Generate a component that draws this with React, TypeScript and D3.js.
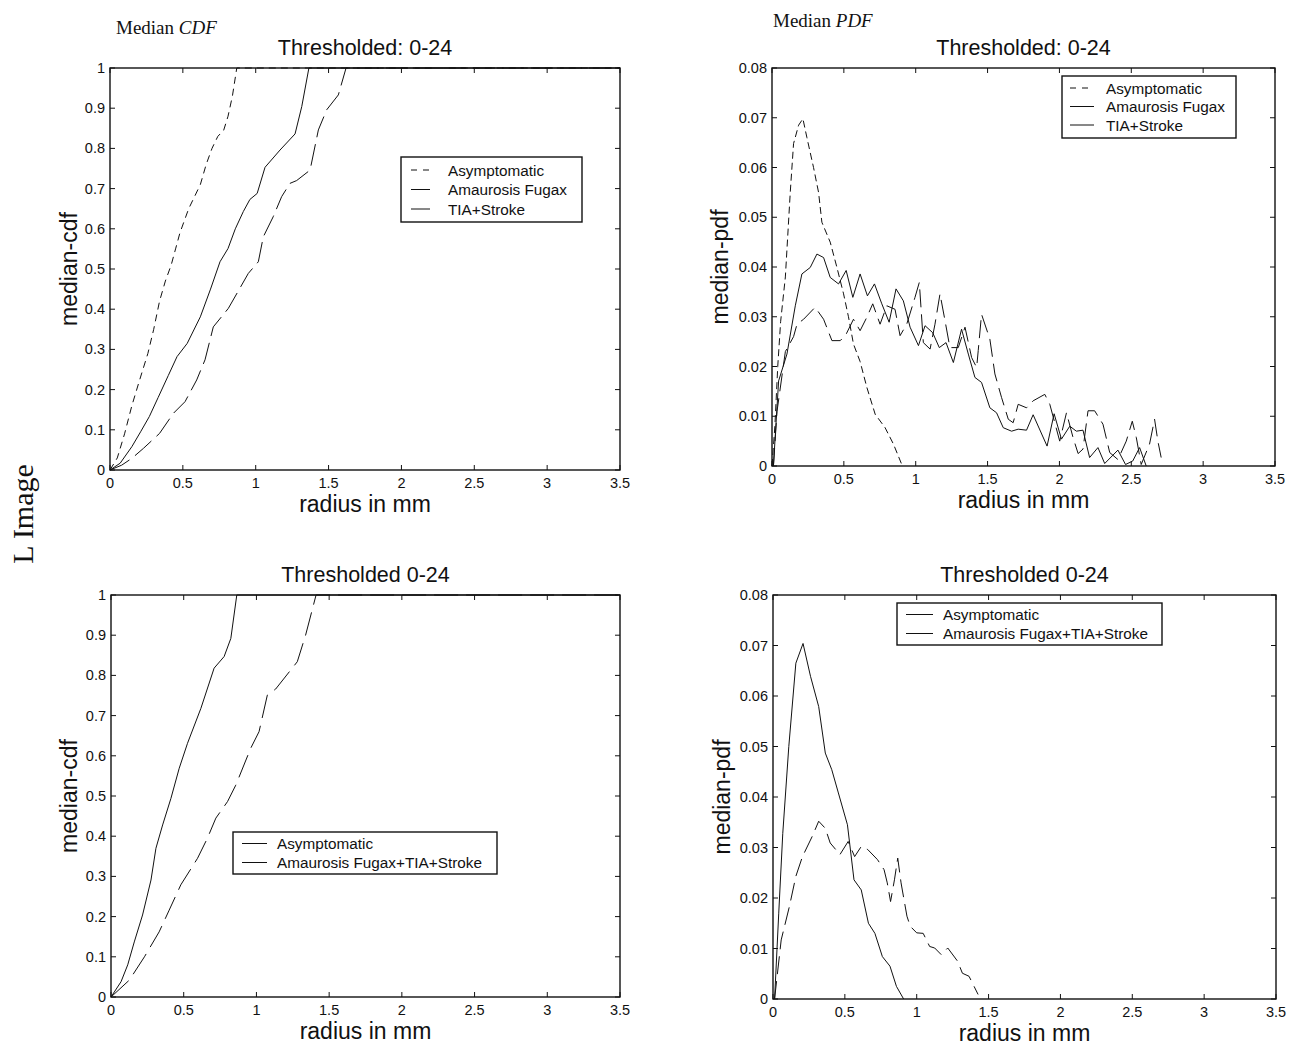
import React from 'react';
import * as d3 from 'd3';

type Pt = [number, number];

const xTicks = [0, 0.5, 1, 1.5, 2, 2.5, 3, 3.5];
const xTickLabels = ['0', '0.5', '1', '1.5', '2', '2.5', '3', '3.5'];
const cdfTicks = [0, 0.1, 0.2, 0.3, 0.4, 0.5, 0.6, 0.7, 0.8, 0.9, 1];
const cdfTickLabels = ['0', '0.1', '0.2', '0.3', '0.4', '0.5', '0.6', '0.7', '0.8', '0.9', '1'];
const pdfTicks = [0, 0.01, 0.02, 0.03, 0.04, 0.05, 0.06, 0.07, 0.08];
const pdfTickLabels = ['0', '0.01', '0.02', '0.03', '0.04', '0.05', '0.06', '0.07', '0.08'];

const namesThree = ['Asymptomatic', 'Amaurosis Fugax', 'TIA+Stroke'];
const namesTwo = ['Asymptomatic', 'Amaurosis Fugax+TIA+Stroke'];

// Top-left: median CDF, three groups
const cdfAsym: Pt[] = [[0,0],[0.05,0.03],[0.1,0.09],[0.15,0.16],[0.2,0.22],[0.26,0.29],[0.3,0.35],[0.34,0.42],[0.38,0.47],[0.42,0.51],[0.45,0.55],[0.48,0.59],[0.54,0.65],[0.58,0.68],[0.62,0.71],[0.66,0.76],[0.7,0.8],[0.74,0.83],[0.78,0.845],[0.81,0.88],[0.84,0.93],[0.87,1.0],[3.5,1.0]];
const cdfAF: Pt[] = [[0,0],[0.07,0.017],[0.15,0.058],[0.21,0.095],[0.27,0.133],[0.33,0.18],[0.4,0.235],[0.46,0.282],[0.53,0.315],[0.62,0.381],[0.69,0.45],[0.755,0.518],[0.81,0.551],[0.86,0.6],[0.915,0.643],[0.96,0.673],[1.01,0.688],[1.064,0.753],[1.167,0.796],[1.27,0.836],[1.316,0.904],[1.365,1.0],[3.5,1.0]];
const cdfTIA: Pt[] = [[0,0],[0.08,0.012],[0.15,0.029],[0.23,0.054],[0.34,0.091],[0.435,0.141],[0.515,0.17],[0.595,0.224],[0.652,0.274],[0.709,0.356],[0.812,0.402],[0.88,0.445],[0.949,0.489],[1.018,0.518],[1.052,0.58],[1.12,0.63],[1.178,0.68],[1.235,0.713],[1.281,0.72],[1.373,0.746],[1.43,0.846],[1.487,0.896],[1.567,0.933],[1.62,1.0],[3.5,1.0]];

// Top-right: median PDF, three groups
const pdfAsym: Pt[] = [[0,0],[0.02,0.008],[0.04,0.02],[0.06,0.029],[0.093,0.038],[0.127,0.055],[0.15,0.0648],[0.185,0.0685],[0.215,0.0698],[0.243,0.066],[0.289,0.06],[0.324,0.055],[0.347,0.049],[0.405,0.045],[0.451,0.04],[0.498,0.0346],[0.532,0.03],[0.567,0.0245],[0.613,0.021],[0.66,0.0158],[0.718,0.0104],[0.787,0.0077],[0.845,0.0044],[0.903,0.0003]];
const pdfAF: Pt[] = [[0.01,0],[0.046,0.0171],[0.104,0.0225],[0.162,0.0322],[0.208,0.0386],[0.266,0.0399],[0.3125,0.0426],[0.359,0.0419],[0.405,0.0379],[0.463,0.0366],[0.516,0.0393],[0.5625,0.0339],[0.613,0.0386],[0.664,0.0342],[0.713,0.0366],[0.764,0.0326],[0.815,0.0289],[0.863,0.0356],[0.914,0.0332],[0.961,0.0279],[1.019,0.0242],[1.065,0.0282],[1.118,0.0268],[1.164,0.0238],[1.211,0.0248],[1.262,0.0208],[1.319,0.0275],[1.366,0.0225],[1.412,0.0178],[1.458,0.0168],[1.516,0.0117],[1.5625,0.0107],[1.609,0.0077],[1.667,0.007],[1.713,0.0074],[1.771,0.0072],[1.817,0.0103],[1.914,0.004],[1.963,0.0105],[2.014,0.0054],[2.072,0.008],[2.118,0.007],[2.164,0.0072],[2.21,0.0017],[2.268,0.0037],[2.315,0.0005],[2.407,0.0032],[2.46,0.0003],[2.51,0.001],[2.558,0.0037],[2.604,0]];
const pdfTIA: Pt[] = [[0.01,0],[0.035,0.011],[0.093,0.023],[0.15,0.026],[0.174,0.0285],[0.22,0.0295],[0.3,0.0319],[0.359,0.0295],[0.417,0.0252],[0.475,0.0252],[0.516,0.0265],[0.567,0.0295],[0.613,0.0272],[0.66,0.0299],[0.701,0.0326],[0.752,0.0285],[0.799,0.0322],[0.856,0.0315],[0.891,0.0262],[0.9375,0.0285],[0.995,0.0339],[1.025,0.0369],[1.053,0.0248],[1.1,0.0235],[1.134,0.0285],[1.169,0.0346],[1.204,0.0292],[1.238,0.0238],[1.296,0.0238],[1.343,0.0279],[1.389,0.0218],[1.424,0.0198],[1.435,0.0232],[1.458,0.0305],[1.516,0.0255],[1.551,0.0185],[1.597,0.0138],[1.644,0.0094],[1.678,0.0087],[1.713,0.0124],[1.771,0.0117],[1.817,0.0131],[1.898,0.0144],[1.933,0.0124],[2.002,0.005],[2.049,0.0107],[2.095,0.0057],[2.13,0.0025],[2.164,0.0034],[2.199,0.0111],[2.245,0.0111],[2.303,0.0084],[2.35,0.0027],[2.407,0.0013],[2.465,0.005],[2.507,0.009],[2.535,0.0057],[2.569,0.0003],[2.627,0.0044],[2.662,0.0094],[2.685,0.005],[2.708,0.0017]];

// Bottom-left: median CDF, two groups
const cdfAsym2: Pt[] = [[0,0],[0.069,0.038],[0.115,0.08],[0.16,0.137],[0.217,0.204],[0.275,0.291],[0.309,0.37],[0.355,0.428],[0.412,0.494],[0.469,0.569],[0.526,0.631],[0.618,0.718],[0.709,0.818],[0.778,0.847],[0.824,0.892],[0.865,1.0],[3.5,1.0]];
const cdfSym2: Pt[] = [[0,0],[0.126,0.042],[0.23,0.1],[0.331,0.162],[0.4,0.216],[0.48,0.279],[0.595,0.345],[0.663,0.395],[0.721,0.445],[0.801,0.486],[0.858,0.527],[0.961,0.619],[1.018,0.66],[1.075,0.751],[1.132,0.766],[1.281,0.834],[1.338,0.9],[1.41,1.0],[3.5,1.0]];

// Bottom-right: median PDF, two groups
const pdfAsym2: Pt[] = [[0.011,0],[0.04,0.017],[0.068,0.0328],[0.11,0.05],[0.159,0.0665],[0.209,0.0704],[0.261,0.0639],[0.318,0.0579],[0.364,0.0487],[0.409,0.0454],[0.455,0.0408],[0.518,0.0345],[0.5636,0.0236],[0.614,0.0216],[0.664,0.015],[0.709,0.013],[0.761,0.0084],[0.814,0.0065],[0.859,0.0025],[0.909,0]];
const pdfSym2: Pt[] = [[0.011,0],[0.057,0.0117],[0.114,0.0183],[0.159,0.0243],[0.205,0.0282],[0.273,0.0322],[0.318,0.0352],[0.364,0.0338],[0.398,0.0309],[0.466,0.0286],[0.523,0.0312],[0.568,0.0282],[0.614,0.0302],[0.659,0.0296],[0.727,0.0276],[0.773,0.0256],[0.795,0.023],[0.818,0.0193],[0.845,0.0236],[0.868,0.0279],[0.891,0.023],[0.932,0.0164],[0.955,0.0144],[1.0,0.0131],[1.045,0.013],[1.09,0.0104],[1.125,0.0101],[1.17,0.0088],[1.216,0.0101],[1.284,0.0075],[1.318,0.0051],[1.364,0.0045],[1.427,0.0009]];

const SANS = "'Liberation Sans', Arial, Helvetica, sans-serif";
const SERIF = "'Liberation Serif', 'Times New Roman', serif";
const INK = '#111';

type Series = { data: Pt[]; dash?: string; legendDash?: string };
type Legend = { x: number; y: number; w: number; h: number; rowH: number; firstRow: number; lineX0: number; lineX1: number; textX: number };

type PanelProps = {
  left: number; right: number; top: number; bottom: number;
  yMax: number; yTicks: number[]; yTickLabels: string[];
  title: string; yLabel: string; yLabelX: number;
  series: Series[]; names: string[]; legend: Legend;
};

function Panel(p: PanelProps) {
  const x = d3.scaleLinear().domain([0, 3.5]).range([p.left, p.right]);
  const y = d3.scaleLinear().domain([0, p.yMax]).range([p.bottom, p.top]);
  const line = d3.line<Pt>().x(d => x(d[0])).y(d => y(d[1]));
  const tl = 5;
  const cx = (p.left + p.right) / 2;
  const cy = (p.top + p.bottom) / 2;
  const L = p.legend;
  return (
    <g>
      <text x={cx} y={p.top - 13} textAnchor="middle" fontFamily={SANS} fontSize={21.5} fill={INK}>{p.title}</text>
      {p.series.map((s, i) => (
        <path key={i} d={line(s.data) || ''} fill="none" stroke={INK} strokeWidth={1} strokeDasharray={s.dash} />
      ))}
      <rect x={p.left} y={p.top} width={p.right - p.left} height={p.bottom - p.top} fill="none" stroke={INK} strokeWidth={1.4} />
      {xTicks.map((t, i) => (
        <g key={'x' + i}>
          <line x1={x(t)} x2={x(t)} y1={p.bottom} y2={p.bottom - tl} stroke={INK} />
          <line x1={x(t)} x2={x(t)} y1={p.top} y2={p.top + tl} stroke={INK} />
          <text x={x(t)} y={p.bottom + 18} textAnchor="middle" fontFamily={SANS} fontSize={14.5} fill={INK}>{xTickLabels[i]}</text>
        </g>
      ))}
      {p.yTicks.map((t, i) => (
        <g key={'y' + i}>
          <line x1={p.left} x2={p.left + tl} y1={y(t)} y2={y(t)} stroke={INK} />
          <line x1={p.right} x2={p.right - tl} y1={y(t)} y2={y(t)} stroke={INK} />
          <text x={p.left - 5} y={y(t) + 5} textAnchor="end" fontFamily={SANS} fontSize={14.5} fill={INK}>{p.yTickLabels[i]}</text>
        </g>
      ))}
      <text x={cx} y={p.bottom + 42} textAnchor="middle" fontFamily={SANS} fontSize={23} fill={INK}>radius in mm</text>
      <text transform={`translate(${p.yLabelX},${cy}) rotate(-90)`} textAnchor="middle" fontFamily={SANS} fontSize={23} fill={INK}>{p.yLabel}</text>
      <rect x={L.x} y={L.y} width={L.w} height={L.h} fill="#fff" stroke={INK} strokeWidth={1.4} />
      {p.names.map((n, i) => {
        const ry = L.y + L.firstRow + i * L.rowH;
        return (
          <g key={'l' + i}>
            <line x1={L.lineX0} x2={L.lineX1} y1={ry} y2={ry} stroke={INK} strokeWidth={1} strokeDasharray={p.series[i].legendDash} />
            <text x={L.textX} y={ry + 5.5} fontFamily={SANS} fontSize={15.3} fill={INK}>{n}</text>
          </g>
        );
      })}
    </g>
  );
}

export default function App() {
  return (
    <svg width={1309} height={1045} style={{ position: 'absolute', left: 0, top: 0, background: '#fff' }}>
      <rect x={0} y={0} width={1309} height={1045} fill="#fff" />
      <text x={116} y={34} fontFamily={SERIF} fontSize={19} fill={INK}>Median <tspan fontStyle="italic">CDF</tspan></text>
      <text x={773} y={27} fontFamily={SERIF} fontSize={19} fill={INK}>Median <tspan fontStyle="italic">PDF</tspan></text>
      <text transform="translate(33,514) rotate(-90)" textAnchor="middle" fontFamily={SERIF} fontSize={30} fill={INK}>L Image</text>

      <Panel left={110} right={620} top={68} bottom={470} yMax={1} yTicks={cdfTicks} yTickLabels={cdfTickLabels}
        title="Thresholded: 0-24" yLabel="median-cdf" yLabelX={77}
        names={namesThree}
        series={[
          { data: cdfAsym, dash: '7,5', legendDash: '6,6' },
          { data: cdfAF },
          { data: cdfTIA, dash: '22,7' },
        ]}
        legend={{ x: 401, y: 157, w: 181, h: 65, rowH: 19.5, firstRow: 13, lineX0: 411, lineX1: 430, textX: 448 }}
      />
      <Panel left={772} right={1275} top={68} bottom={466} yMax={0.08} yTicks={pdfTicks} yTickLabels={pdfTickLabels}
        title="Thresholded: 0-24" yLabel="median-pdf" yLabelX={728}
        names={namesThree}
        series={[
          { data: pdfAsym, dash: '7,4', legendDash: '6,6' },
          { data: pdfAF },
          { data: pdfTIA, dash: '18,7' },
        ]}
        legend={{ x: 1062, y: 76, w: 174, h: 62, rowH: 18.5, firstRow: 12, lineX0: 1070, lineX1: 1094, textX: 1106 }}
      />
      <Panel left={111} right={620} top={595} bottom={997} yMax={1} yTicks={cdfTicks} yTickLabels={cdfTickLabels}
        title="Thresholded 0-24" yLabel="median-cdf" yLabelX={77}
        names={namesTwo}
        series={[
          { data: cdfAsym2 },
          { data: cdfSym2, dash: '24,8' },
        ]}
        legend={{ x: 233, y: 832, w: 264, h: 42, rowH: 19, firstRow: 11.5, lineX0: 242, lineX1: 267, textX: 277 }}
      />
      <Panel left={773} right={1276} top={595} bottom={999} yMax={0.08} yTicks={pdfTicks} yTickLabels={pdfTickLabels}
        title="Thresholded 0-24" yLabel="median-pdf" yLabelX={730}
        names={namesTwo}
        series={[
          { data: pdfAsym2 },
          { data: pdfSym2, dash: '18,7' },
        ]}
        legend={{ x: 897, y: 603, w: 265, h: 42, rowH: 19, firstRow: 11.5, lineX0: 906, lineX1: 933, textX: 943 }}
      />
    </svg>
  );
}
